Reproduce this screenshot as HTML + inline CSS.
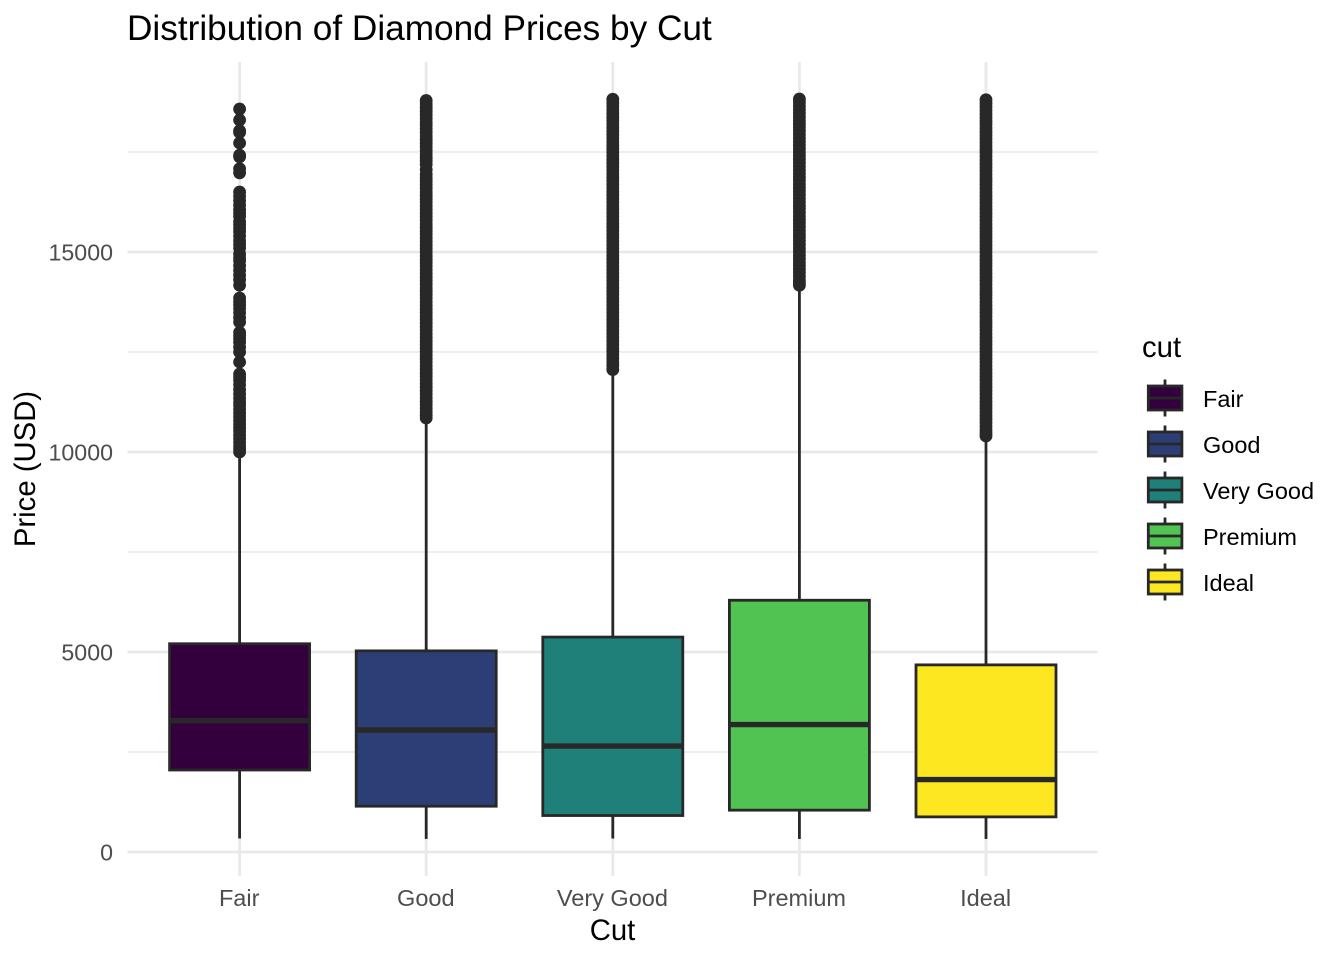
<!DOCTYPE html>
<html lang="en">
<head>
<meta charset="utf-8">
<title>Distribution of Diamond Prices by Cut</title>
<style>
html,body{margin:0;padding:0;background:#fff;}
svg{display:block;font-family:"Liberation Sans",Arial,Helvetica,sans-serif;}
</style>
</head>
<body>
<svg id="chart" xmlns="http://www.w3.org/2000/svg" width="1344" height="960" viewBox="0 0 1344 960">
  <rect x="0" y="0" width="1344" height="960" fill="#ffffff"/>
  <g id="grid"></g>
  <g id="boxes"></g>
  <g id="yticks"></g>
  <g id="xticks"></g>
  <text x="127" y="40" font-size="35.2" fill="#000000">Distribution of Diamond Prices by Cut</text>
  <text x="612.5" y="940" font-size="29.3" fill="#000000" text-anchor="middle">Cut</text>
  <text transform="translate(35,469) rotate(-90)" font-size="29.3" fill="#000000" text-anchor="middle">Price (USD)</text>
  <g id="legend">
    <text x="1142" y="357" font-size="29.3" fill="#000000">cut</text>
  </g>
</svg>
<script>
const categories = ["Fair", "Good", "Very Good", "Premium", "Ideal"];
const fillColors = ["#33003d", "#2d3e77", "#1f7f79", "#51c353", "#fde720"];
const whiskerLow = [337, 327, 336, 326, 326];
const q1Values = [2050, 1145, 912, 1046, 878];
const medianValues = [3282, 3050, 2648, 3185, 1810];
const q3Values = [5206, 5028, 5373, 6294, 4678];
const whiskerHigh = [9930, 10800, 12040, 14160, 10370];
const yMajorTicks = [0, 5000, 10000, 15000];
const yMinorTicks = [2500, 7500, 12500, 17500];

const outliersFair = [18574, 18300, 18030, 17990, 17725, 17420, 17380, 17080, 16980, 16500, 16390, 16280, 16170, 16060, 15970, 15890, 15760, 15680, 15590, 15510, 15400, 15280, 15190, 15100, 14950, 14860, 14780, 14660, 14540, 14420, 14310, 14170, 13850, 13760, 13680, 13590, 13480, 13360, 13250, 12990, 12910, 12830, 12740, 12620, 12500, 12250, 11950, 11870, 11790, 11680, 11560, 11450, 11340, 11250, 11170, 11070, 10970, 10880, 10790, 10700, 10610, 10520, 10420, 10330, 10240, 10150, 10070, 10000];
const outliersGood = [18788, 18700, 18610, 18520, 18430, 18340, 18250, 18170, 18080, 17990, 17900, 17810, 17720, 17630, 17540, 17450, 17360, 17280, 17190, 17060, 16940, 16850, 16770, 16680, 16590, 16500, 16410, 16320, 16240, 16150, 16060, 15970, 15880, 15790, 15700, 15610, 15520, 15440, 15350, 15260, 15170, 15080, 14990, 14900, 14810, 14730, 14640, 14550, 14460, 14370, 14280, 14190, 14100, 14020, 13930, 13840, 13750, 13660, 13570, 13480, 13390, 13310, 13220, 13130, 13040, 12950, 12860, 12770, 12680, 12600, 12510, 12420, 12330, 12240, 12150, 12060, 11970, 11890, 11800, 11710, 11620, 11530, 11440, 11350, 11260, 11180, 11090, 11000, 10920, 10850];
const outliersVeryGood = [18818, 18730, 18640, 18550, 18460, 18370, 18280, 18200, 18110, 18020, 17930, 17840, 17750, 17660, 17570, 17490, 17400, 17310, 17220, 17130, 17040, 16950, 16860, 16780, 16690, 16600, 16510, 16420, 16330, 16240, 16150, 16070, 15980, 15890, 15800, 15710, 15620, 15530, 15440, 15360, 15270, 15180, 15090, 15000, 14910, 14820, 14730, 14650, 14560, 14470, 14380, 14290, 14200, 14110, 14020, 13940, 13850, 13760, 13670, 13580, 13490, 13400, 13310, 13230, 13140, 13050, 12960, 12870, 12780, 12690, 12600, 12520, 12430, 12340, 12250, 12160, 12060];
const outliersPremium = [18823, 18740, 18650, 18560, 18470, 18380, 18290, 18210, 18120, 18030, 17940, 17850, 17760, 17670, 17580, 17500, 17410, 17320, 17230, 17140, 17050, 16960, 16870, 16790, 16700, 16610, 16520, 16430, 16340, 16250, 16160, 16080, 15990, 15900, 15810, 15720, 15630, 15540, 15450, 15370, 15280, 15190, 15100, 15010, 14920, 14830, 14740, 14660, 14570, 14480, 14390, 14300, 14230, 14170];
const outliersIdeal = [18806, 18720, 18630, 18540, 18450, 18360, 18270, 18190, 18100, 18010, 17920, 17830, 17740, 17650, 17560, 17480, 17390, 17300, 17210, 17120, 17030, 16940, 16850, 16770, 16680, 16590, 16500, 16410, 16320, 16230, 16140, 16060, 15970, 15880, 15790, 15700, 15610, 15520, 15430, 15350, 15260, 15170, 15080, 14990, 14900, 14810, 14720, 14640, 14550, 14460, 14370, 14280, 14190, 14100, 14010, 13930, 13840, 13750, 13660, 13570, 13480, 13390, 13300, 13220, 13130, 13040, 12950, 12860, 12770, 12680, 12590, 12510, 12420, 12330, 12240, 12150, 12060, 11970, 11880, 11800, 11710, 11620, 11530, 11440, 11350, 11260, 11170, 11090, 11000, 10910, 10820, 10730, 10640, 10550, 10470, 10400];
const outlierSeries = [outliersFair, outliersGood, outliersVeryGood, outliersPremium, outliersIdeal];

const SVG_NS = "http://www.w3.org/2000/svg";
const INK = "#282828";
const GRID = "#e9e9e9";
const TICK_TEXT = "#4d4d4d";
const panelLeft = 127.5, panelRight = 1097.5, panelTop = 62, panelBottom = 876;
const xStart = 239.6, xStep = 186.6, boxWidth = 140;
const LINE_W = 2.8;

function xScale(i) { return xStart + i * xStep; }
function yScale(v) { return 852 - v * 0.04; }

function make(tag, attrs, parent) {
  const el = document.createElementNS(SVG_NS, tag);
  for (const k in attrs) el.setAttribute(k, attrs[k]);
  parent.appendChild(el);
  return el;
}

const gridG = document.getElementById("grid");
const boxesG = document.getElementById("boxes");
const yTicksG = document.getElementById("yticks");
const xTicksG = document.getElementById("xticks");
const legendG = document.getElementById("legend");

yMinorTicks.forEach(function (v) {
  const line = make("line", {x1: panelLeft, x2: panelRight, y1: yScale(v), y2: yScale(v), stroke: GRID, "stroke-width": 1.5}, gridG);
  
  
});
yMajorTicks.forEach(function (v) {
  const line = make("line", {x1: panelLeft, x2: panelRight, y1: yScale(v), y2: yScale(v), stroke: GRID, "stroke-width": 2.8}, gridG);
  
  
  const label = make("text", {x: 113, y: yScale(v) + 8.3, "font-size": 23.2, fill: TICK_TEXT, "text-anchor": "end"}, yTicksG);
  
  
  label.textContent = String(v);
});

categories.forEach(function (name, i) {
  const cx = xScale(i);
  const gridLine = make("line", {x1: cx, x2: cx, y1: panelTop, y2: panelBottom, stroke: GRID, "stroke-width": 2.8}, gridG);
  
  

  const label = make("text", {x: cx - 0.4, y: 906, "font-size": 23.5, fill: TICK_TEXT, "text-anchor": "middle"}, xTicksG);
  
  
  label.textContent = name;

  const group = make("g", {}, boxesG);
  
  

  outlierSeries[i].forEach(function (v) {
    const dot = make("circle", {cx: cx, cy: yScale(v), r: 6.4, fill: INK}, group);
    
    
  });

  const whiskerUp = make("line", {x1: cx, x2: cx, y1: yScale(q3Values[i]), y2: yScale(whiskerHigh[i]), stroke: INK, "stroke-width": LINE_W}, group);
  
  

  const whiskerDown = make("line", {x1: cx, x2: cx, y1: yScale(q1Values[i]), y2: yScale(whiskerLow[i]), stroke: INK, "stroke-width": LINE_W}, group);
  
  

  const box = make("rect", {x: cx - boxWidth / 2, y: yScale(q3Values[i]), width: boxWidth, height: yScale(q1Values[i]) - yScale(q3Values[i]), fill: fillColors[i], stroke: INK, "stroke-width": LINE_W}, group);
  
  

  const median = make("line", {x1: cx - boxWidth / 2, x2: cx + boxWidth / 2, y1: yScale(medianValues[i]), y2: yScale(medianValues[i]), stroke: INK, "stroke-width": 5.4}, group);
  
  

  const keyY = 398 + i * 46;
  const key = make("g", {}, legendG);
  
  

  const keyWhiskerTop = make("line", {x1: 1165, x2: 1165, y1: keyY - 18.5, y2: keyY - 12, stroke: INK, "stroke-width": LINE_W}, key);
  
  

  const keyWhiskerBottom = make("line", {x1: 1165, x2: 1165, y1: keyY + 12, y2: keyY + 18.5, stroke: INK, "stroke-width": LINE_W}, key);
  
  

  const keyBox = make("rect", {x: 1148.3, y: keyY - 12, width: 33.6, height: 24, fill: fillColors[i], stroke: INK, "stroke-width": LINE_W}, key);
  
  

  const keyMedian = make("line", {x1: 1148.3, x2: 1181.9, y1: keyY, y2: keyY, stroke: INK, "stroke-width": LINE_W}, key);
  
  

  const keyLabel = make("text", {x: 1203, y: keyY + 9, "font-size": 23.5, fill: "#000000"}, key);
  
  
  keyLabel.textContent = name;
});
</script>
</body>
</html>
